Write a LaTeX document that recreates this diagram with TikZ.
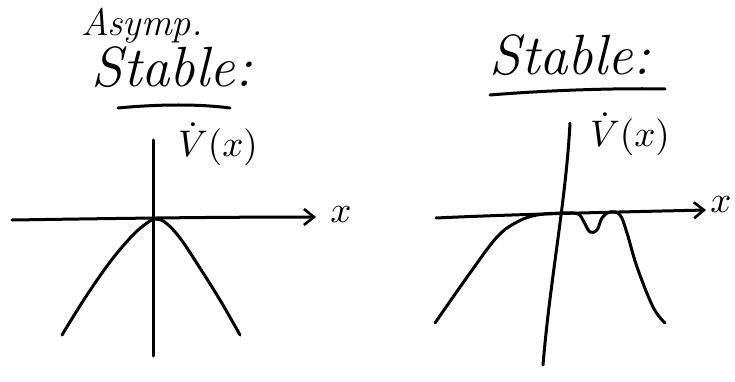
\documentclass[tikz,border=0pt]{standalone}
\usepackage{graphicx}
\usetikzlibrary{arrows.meta}
\begin{document}
\begin{tikzpicture}[x=1pt,y=-1pt,
  pen/.style={line width=3pt,line cap=round,line join=round},
  axisarrow/.style={pen,-{Straight Barb[length=10pt,width=16pt,line width=2.6pt]}},
  hand/.style={inner sep=0pt,font=\fontsize{42}{42}\selectfont\itshape},
  handsmall/.style={inner sep=0pt,font=\fontsize{32}{32}\selectfont\itshape}]
\useasboundingbox (0,0) rectangle (735,382);
% ---- left panel ----
\node[handsmall] (asymp) at (142,26) {\scalebox{1.2}{Asymp.}};
\node[hand] (stableL) at (172,67) {\scalebox{1.35}{Stable:}};
\draw[pen] (118,108) .. controls (160,104) and (200,104) .. (230,108);
\node[inner sep=0pt] (vdotL) at (218,144) {\scalebox{3.7}{$\dot V(x)$}};
\coordinate (lyt) at (153,140);
\coordinate (lyb) at (153,356);
\draw[pen] (lyt) -- (lyb);
\coordinate (lxl) at (12,220);
\coordinate (lxr) at (316,217);
\draw[axisarrow] (lxl) .. controls (80,219) and (200,217) .. (lxr);
\node[inner sep=0pt] (xL) at (341,215) {\scalebox{3.7}{$x$}};
\draw[pen] plot[smooth,tension=0.6] coordinates {(62,335)(85,298)(110,262)(132,236)(147,223)(156,219)(166,223)(180,238)(198,265)(220,300)(240,335)};
% ---- right panel ----
\node[hand] (stableR) at (570,55) {\scalebox{1.35}{Stable:}};
\draw[pen] (490,95) .. controls (550,90) and (620,88) .. (665,89);
\node[inner sep=0pt] (vdotR) at (630,134) {\scalebox{3.7}{$\dot V(x)$}};
\coordinate (ryt) at (570,123);
\coordinate (ryb) at (543,365);
\draw[pen] (ryt) .. controls (566,200) and (550,280) .. (ryb);
\coordinate (rxl) at (436,218);
\coordinate (rxr) at (706,210);
\draw[axisarrow] (rxl) .. controls (520,214) and (620,212) .. (rxr);
\node[inner sep=0pt] (xR) at (721,205) {\scalebox{3.7}{$x$}};
\draw[pen] plot[smooth,tension=0.6] coordinates {(435,323)(470,273)(497,237)(517,222)(537,215)(563,213)(578,214)(584,222)(590,232)(597,230)(602,218)(610,212)(620,215)(627,233)(637,267)(653,307)(665,323)};
\end{tikzpicture}
\end{document}
